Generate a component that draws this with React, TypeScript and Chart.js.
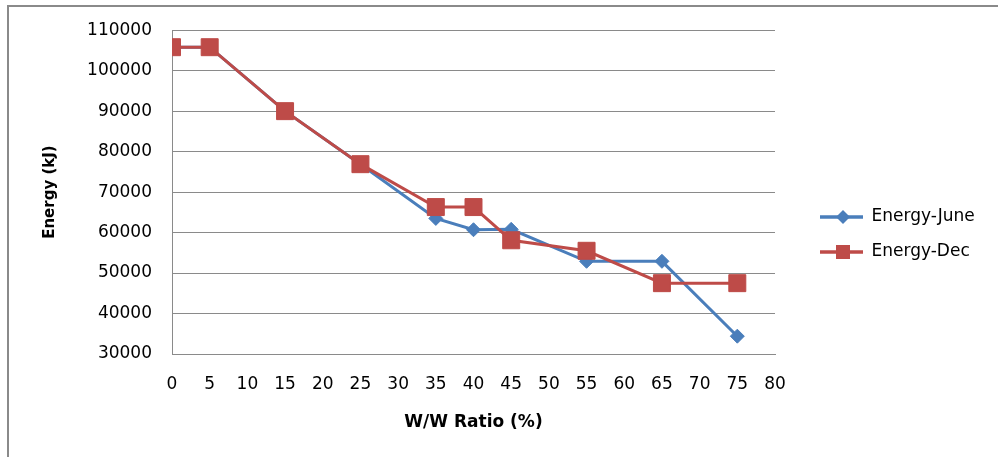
import React, { useEffect, useRef } from "react";
import { Chart, registerables } from "chart.js";

Chart.register(...registerables);

const ratios = [0, 5, 15, 25, 35, 40, 45, 55, 65, 75];
const energyJune = [105800, 105800, 90000, 76900, 63500, 60700, 60800, 52900, 52900, 34400];
const energyDec = [105800, 105800, 90000, 76900, 66300, 66300, 58100, 55500, 47500, 47500];
const seriesNames = ["Energy-June", "Energy-Dec"];
const xTitle = "W/W Ratio (%)";
const yTitle = "Energy (kJ)";

const BLUE = "#4A7EBB";
const RED = "#BE4B48";
const GRID = "#8a8a8a";
const FONT = "'DejaVu Sans', sans-serif";

function makeLegendIcon(color: string, kind: "diamond" | "square"): HTMLCanvasElement {
  const c = document.createElement("canvas");
  c.width = 70;
  c.height = 20;
  const ctx = c.getContext("2d")!;
  ctx.strokeStyle = color;
  ctx.lineWidth = 3.5;
  ctx.beginPath();
  ctx.moveTo(27, 10);
  ctx.lineTo(70, 10);
  ctx.stroke();
  ctx.fillStyle = color;
  if (kind === "diamond") {
    ctx.beginPath();
    ctx.moveTo(50, 3);
    ctx.lineTo(57, 10);
    ctx.lineTo(50, 17);
    ctx.lineTo(43, 10);
    ctx.closePath();
    ctx.fill();
  } else {
    ctx.fillRect(43, 3, 14, 14);
  }
  return c;
}

export default function App() {
  const ref = useRef<HTMLCanvasElement | null>(null);

  useEffect(() => {
    if (!ref.current) return;
    const icons = [makeLegendIcon(BLUE, "diamond"), makeLegendIcon(RED, "square")];
    const legendWidthPlugin = {
      id: "legendWidth",
      beforeLayout(chart: any) {
        const leg = chart.legend;
        if (leg && !leg._patchedFit) {
          const f = leg.fit;
          leg.fit = function () {
            f.call(this);
            this.width = 223;
          };
          leg._patchedFit = true;
        }
      },
    };
    const chart = new Chart(ref.current, {
      type: "line",
      data: {
        datasets: [
          {
            label: seriesNames[0],
            data: ratios.map((x, i) => ({ x, y: energyJune[i] })),
            borderColor: BLUE,
            backgroundColor: BLUE,
            borderWidth: 3,
            pointStyle: "rectRot",
            pointRadius: 7,
            pointBorderWidth: 1,
            pointBackgroundColor: BLUE,
            pointBorderColor: BLUE,
            tension: 0,
            order: 1,
          },
          {
            label: seriesNames[1],
            data: ratios.map((x, i) => ({ x, y: energyDec[i] })),
            borderColor: RED,
            backgroundColor: RED,
            borderWidth: 3,
            pointStyle: "rect",
            pointRadius: 12,
            pointBorderWidth: 1,
            pointBackgroundColor: RED,
            pointBorderColor: RED,
            tension: 0,
            order: 0,
          },
        ],
      },
      options: {
        animation: false,
        responsive: false,
        layout: { padding: { left: 40, top: 28, right: 0, bottom: 16 } },
        plugins: {
          tooltip: { enabled: false },
          legend: {
            position: "right",
            labels: {
              usePointStyle: true,
              pointStyleWidth: 70,
              padding: 18,
              color: "#000",
              font: { family: FONT, size: 17 },
              sort: (a: any, b: any) => a.datasetIndex - b.datasetIndex,
              generateLabels: (c: any) =>
                (Chart.defaults.plugins.legend.labels.generateLabels as any)(c).map((l: any) => ({
                  ...l,
                  pointStyle: icons[l.datasetIndex],
                })),
            },
          },
        },
        scales: {
          x: {
            type: "linear",
            min: 0,
            max: 80,
            grid: { display: false, drawTicks: false },
            border: { display: true, color: GRID, width: 1 },
            ticks: {
              stepSize: 5,
              padding: 20,
              color: "#000",
              font: { family: FONT, size: 17 },
              maxRotation: 0,
              callback: (v: any) => String(v),
            },
            title: {
              display: true,
              text: xTitle,
              color: "#000",
              font: { family: FONT, size: 17, weight: "bold" },
              padding: { top: 4, bottom: 8 },
            },
            afterFit: (s: any) => {
              s.height = 87;
            },
          },
          y: {
            type: "linear",
            min: 30000,
            max: 110000,
            grid: { color: GRID, lineWidth: 1, drawTicks: false },
            border: { display: true, color: GRID, width: 1 },
            ticks: {
              stepSize: 10000,
              padding: 20,
              color: "#000",
              font: { family: FONT, size: 17 },
              callback: (v: any) => String(v),
            },
            title: {
              display: true,
              text: yTitle,
              color: "#000",
              font: { family: FONT, size: 15, weight: "bold" },
              padding: { top: 1, bottom: 0 },
            },
            afterFit: (s: any) => {
              s.width = 132;
            },
          },
        },
      },
      plugins: [legendWidthPlugin],
    } as any);
    return () => chart.destroy();
  }, []);

  return (
    <div
      style={{
        position: "absolute",
        left: 0,
        top: 0,
        width: 998,
        height: 457,
        overflow: "hidden",
        background: "#fff",
      }}
    >
      <div
        style={{
          position: "absolute",
          left: 7,
          top: 5,
          width: 991,
          height: 452,
          borderTop: "2px solid #8a8a8a",
          borderLeft: "2px solid #8a8a8a",
          boxSizing: "border-box",
        }}
      />
      <canvas
        ref={ref}
        width={998}
        height={457}
        style={{ position: "absolute", left: 0, top: 0, display: "block" }}
      />
    </div>
  );
}
